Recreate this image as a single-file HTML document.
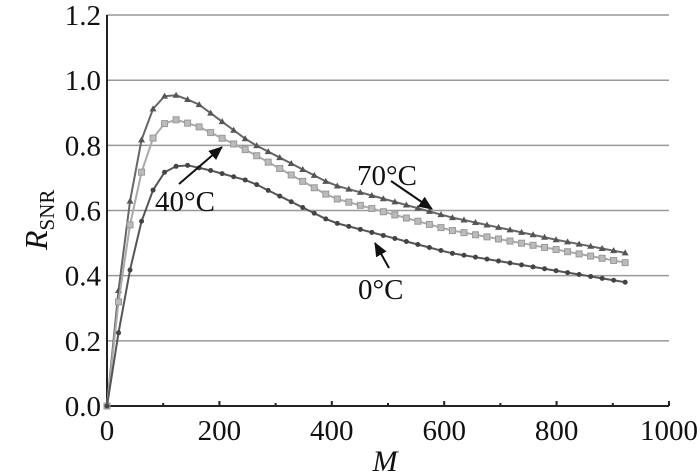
<!DOCTYPE html><html><head><meta charset="utf-8"><style>
html,body{margin:0;padding:0;background:#fff;width:700px;height:473px;overflow:hidden}
text{font-family:"Liberation Serif",serif;fill:#111}
</style></head><body>
<svg id="s" width="700" height="473" viewBox="0 0 700 473" xmlns="http://www.w3.org/2000/svg">
<defs><marker id="ah2" markerWidth="14" markerHeight="12" refX="13" refY="6" orient="auto" markerUnits="userSpaceOnUse"><path d="M0,0 L14,6 L0,12 z" fill="#111"/></marker></defs>
<g id="grid"></g>
<line x1="107" y1="15" x2="107" y2="406" stroke="#222" stroke-width="2"/>
<line x1="107" y1="406" x2="669" y2="406" stroke="#222" stroke-width="2"/>
<g id="ticks"></g>
<g id="curves"></g>
<text x="357" y="185" font-size="29">70°C</text>
<line x1="391" y1="181" x2="432" y2="209" stroke="#111" stroke-width="2" marker-end="url(#ah2)"/>
<text x="155" y="211" font-size="29">40°C</text>
<line x1="179" y1="184" x2="222" y2="147" stroke="#111" stroke-width="2" marker-end="url(#ah2)"/>
<text x="358" y="299" font-size="29">0°C</text>
<line x1="389" y1="268" x2="375" y2="243" stroke="#111" stroke-width="2" marker-end="url(#ah2)"/>
<text x="385" y="471" font-size="30" font-style="italic" text-anchor="middle">M</text>
<text transform="translate(47,250) rotate(-90)" font-size="32"><tspan font-style="italic">R</tspan><tspan font-size="21" dy="7">SNR</tspan></text>
</svg>
<script>
var NS="http://www.w3.org/2000/svg";
function X(m){return 107+m*0.562}function Y(v){return 406-v*325.8}
function el(t,a,p){var e=document.createElementNS(NS,t);for(var k in a)e.setAttribute(k,a[k]);(p||document.getElementById('s')).appendChild(e);return e}
var g=document.getElementById('grid'),tk=document.getElementById('ticks');
for(var i=0;i<=6;i++){var v=i*0.2,y=Y(v);
 if(i>0)el('line',{x1:107,y1:y,x2:669,y2:y,stroke:'#999','stroke-width':1.5},g);
 var t=el('text',{x:101,y:y+10,'font-size':29,'text-anchor':'end'},tk);t.textContent=v.toFixed(1);}
for(var i=0;i<=5;i++){var m=i*200,x=X(m);var t=el('text',{x:x,y:440,'font-size':29,'text-anchor':'middle'},tk);t.textContent=m;
 el('line',{x1:x,y1:406,x2:x,y2:401,stroke:'#222','stroke-width':2},tk);
 if(i<5){el('line',{x1:X(m+100),y1:406,x2:X(m+100),y2:403,stroke:'#222','stroke-width':2},tk);}}
var S=[
 {k:[[0,0],[18,.32],[39,.61],[60,.81],[81,.91],[100,.95],[118,.957],[160,.93],[254,.81],[400,.68],[610,.58],[800,.51],[922,.47]],c:'#666',mk:'tri'},
 {k:[[0,0],[18,.29],[39,.54],[60,.71],[81,.82],[100,.865],[120,.88],[160,.86],[254,.78],[400,.64],[610,.54],[800,.48],[922,.44]],c:'#aaa',mk:'sq'},
 {k:[[0,0],[20,.22],[40,.41],[60,.56],[81,.66],[100,.715],[120,.735],[140,.74],[180,.725],[254,.69],[400,.565],[610,.47],[800,.415],[922,.38]],c:'#555',mk:'dot'}];
var cg=document.getElementById('curves');
S.forEach(function(s){
 function f(m){var k=s.k;for(var i=1;i<k.length;i++)if(m<=k[i][0]){var a=k[i-1],b=k[i];return a[1]+(b[1]-a[1])*(m-a[0])/(b[0]-a[0])}return k[k.length-1][1]}
 var pts=[];for(var j=0;j<=45;j++){var m=j*922/45;pts.push([X(m),Y(f(m))])}
 el('polyline',{points:pts.map(function(p){return p.join(',')}).join(' '),fill:'none',stroke:s.c,'stroke-width':2},cg);
 pts.forEach(function(p){
  if(s.mk=='tri')el('path',{d:'M'+p[0]+','+(p[1]-3.5)+' l3.5,6 l-7,0 z',fill:'#555'},cg);
  else if(s.mk=='sq')el('rect',{x:p[0]-3,y:p[1]-3,width:6,height:6,fill:'#bbb',stroke:'#999'},cg);
  else el('circle',{cx:p[0],cy:p[1],r:2.5,fill:'#444'},cg);});
});
</script>
</body></html>
